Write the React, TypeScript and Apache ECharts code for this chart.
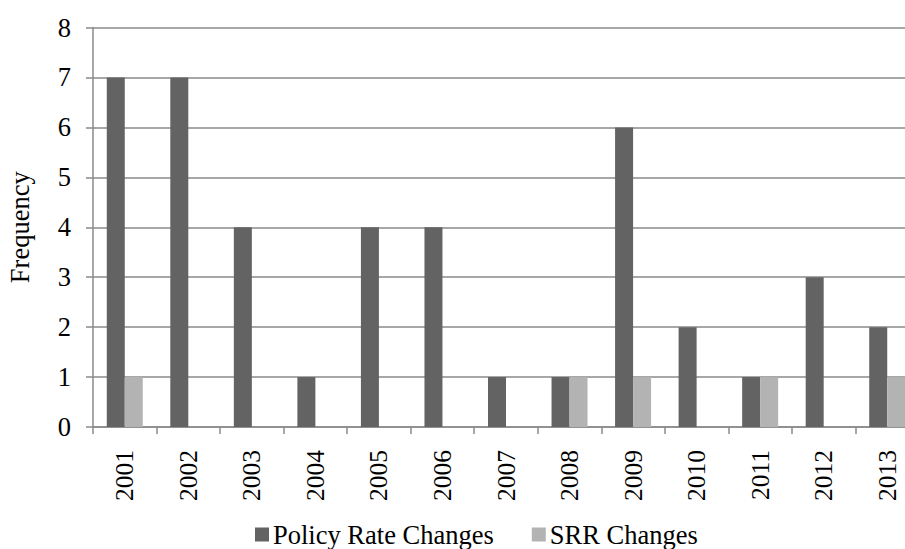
import React, { useEffect, useRef } from "react";
import * as echarts from "echarts";

const years = ["2001","2002","2003","2004","2005","2006","2007","2008","2009","2010","2011","2012","2013"];
const policyRateChanges = [7, 7, 4, 1, 4, 4, 1, 1, 6, 2, 1, 3, 2];
const srrChanges = [1, 0, 0, 0, 0, 0, 0, 1, 1, 0, 1, 0, 1];
const seriesNames = ["Policy Rate Changes", "SRR Changes"];

const FONT = "'Liberation Serif', 'Times New Roman', serif";

export default function App() {
  const ref = useRef<HTMLDivElement>(null);
  useEffect(() => {
    if (!ref.current) return;
    const chart = echarts.init(ref.current, null, { renderer: "svg" });
    const gridColor = "#8a8a8a";
    chart.setOption({
      animation: false,
      backgroundColor: "#ffffff",
      textStyle: { fontFamily: FONT, color: "#000" },
      grid: { left: 93, right: -14, top: 27.5, bottom: 122, outerBoundsMode: "none", containLabel: false },
      legend: {
        left: 250,
        top: 516,
        itemWidth: 14,
        itemHeight: 14,
        itemGap: 38,
        icon: "rect",
        textStyle: { fontFamily: FONT, fontSize: 26.5, color: "#000", padding: [0, 0, 0, -1] },
        data: seriesNames,
      },
      xAxis: {
        type: "category",
        data: years,
        axisLine: { lineStyle: { color: gridColor, width: 1.5 } },
        axisTick: { show: true, length: 7, lineStyle: { color: gridColor, width: 1.5 } },
        axisLabel: { rotate: 90, fontFamily: FONT, fontSize: 25.5, color: "#000", margin: 23 },
      },
      yAxis: {
        type: "value",
        min: 0,
        max: 8,
        interval: 1,
        name: "Frequency",
        nameLocation: "middle",
        nameGap: 60,
        nameRotate: 90,
        nameTextStyle: { fontFamily: FONT, fontSize: 26.5, color: "#000" },
        axisLine: { show: true, lineStyle: { color: gridColor, width: 1.5 } },
        axisTick: { show: true, length: 7, lineStyle: { color: gridColor, width: 1.5 } },
        splitLine: { lineStyle: { color: gridColor, width: 1.5 } },
        axisLabel: { fontFamily: FONT, fontSize: 26.5, color: "#000", margin: 22 },
      },
      series: [
        {
          name: seriesNames[0],
          type: "bar",
          data: policyRateChanges,
          barWidth: 18,
          barGap: "0%",
          itemStyle: { color: "#636363" },
        },
        {
          name: seriesNames[1],
          type: "bar",
          data: srrChanges,
          barWidth: 18,
          barGap: "0%",
          itemStyle: { color: "#b3b3b3" },
        },
      ],
    });
    return () => chart.dispose();
  }, []);
  return (
    <div
      ref={ref}
      style={{ position: "fixed", left: 0, top: 0, width: 905, height: 549, background: "#fff" }}
    />
  );
}
